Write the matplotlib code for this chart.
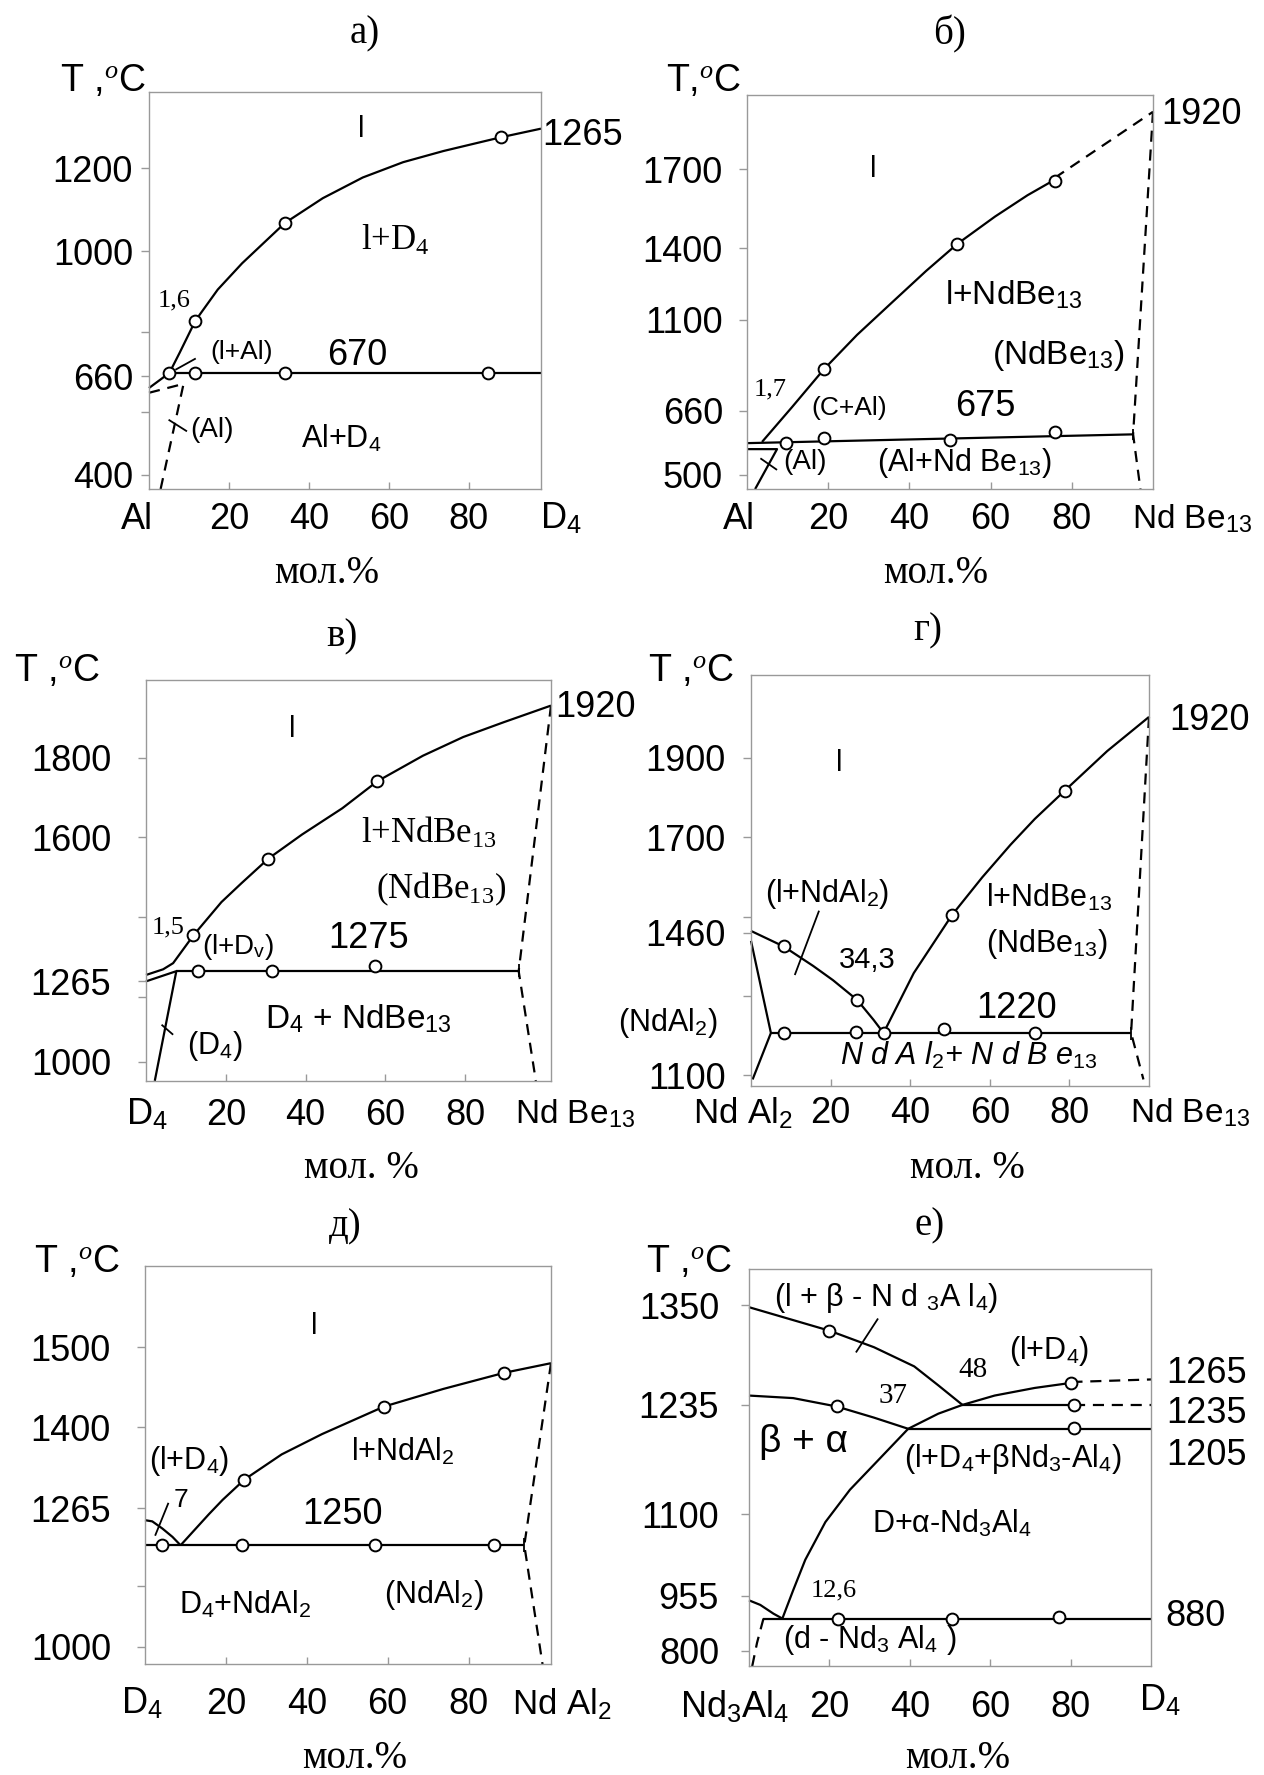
import numpy as np
import matplotlib
matplotlib.use('Agg')
import matplotlib.pyplot as plt
from matplotlib.ticker import NullLocator

SANS = ['Liberation Sans', 'DejaVu Sans']
SERIF = ['Liberation Serif', 'DejaVu Serif']
plt.rcParams['font.family'] = SANS
plt.rcParams['mathtext.fontset'] = 'custom'
plt.rcParams['mathtext.rm'] = 'Liberation Serif'
plt.rcParams['mathtext.it'] = 'Liberation Serif:italic'
plt.rcParams['mathtext.sf'] = 'Liberation Sans'

# ---------------- data (x = mol.%, T = deg C) ----------------
# а) Al - D4
a_liq_x = [5.1, 7.7, 11.6, 17.2, 23.3, 34.0, 43.5, 53.5, 63.6, 73.7, 88.0, 98.1]
a_liq_t = [670, 735, 828, 905, 970, 1068, 1128, 1178, 1215, 1242, 1275, 1296]
a_eut_x = [5.1, 98.1]
a_eut_t = [670, 670]
a_pts_x = [5.1, 11.6, 34.0, 84.8, 11.6, 34.0, 88.0]
a_pts_t = [670, 670, 670, 670, 828, 1068, 1275]
a_sol_x = [0, 5.1]
a_sol_t = [640, 670]
a_dash_x = [0, 8.65, 2.9]
a_dash_t = [632, 647, 354]
a_yticks = [400, 600, 660, 800, 1000, 1200]
a_ylabels = ['400', '', '660', '', '1000', '1200']

# б) Al - NdBe13
b_liq_x = [3.7, 11.1, 18.9, 27.1, 36.1, 44.1, 51.8, 61.1, 69.1, 75.8]
b_liq_t = [582, 678, 860, 1027, 1179, 1305, 1417, 1521, 1602, 1661]
b_liqd_x = [75.8, 100]
b_liqd_t = [1668, 1919]
b_eut_x = [0, 95.1]
b_eut_t = [579, 601]
b_pts_x = [9.5, 18.9, 50.1, 75.8, 18.9, 51.8, 75.8]
b_pts_t = [580, 591, 588, 608, 860, 1417, 1655]
b_solv_x = [100, 95.1, 96.9]
b_solv_t = [1919, 601, 464]
b_al_x = [0, 7.4, 2.0]
b_al_t = [564, 564, 464]
b_yticks = [500, 660, 1100, 1400, 1700]
b_ylabels = ['500', '660', '1100', '1400', '1700']

# в) D4 - NdBe13
c_liq_x = [0, 4.3, 6.8, 11.9, 18.9, 23.9, 30.7, 39.1, 49.2, 58.0, 69.4, 79.5, 89.6, 101.5]
c_liq_t = [1278, 1290, 1303, 1362, 1438, 1485, 1547, 1607, 1673, 1741, 1805, 1852, 1889, 1931]
c_low_x = [0, 7.6]
c_low_t = [1264, 1286]
c_eut_x = [7.6, 93.4]
c_eut_t = [1286, 1286]
c_pts_x = [13.0, 31.5, 57.3, 11.9, 30.7, 58.0]
c_pts_t = [1286, 1286, 1296, 1362, 1547, 1741]
c_sol_x = [7.6, 2.2]
c_sol_t = [1286, 941]
c_solv_x = [101.5, 93.4, 97.7]
c_solv_t = [1931, 1286, 941]
c_yticks = [1000, 1200, 1265, 1400, 1600, 1800]
c_ylabels = ['1000', '', '1265', '', '1600', '1800']

# г) NdAl2 - NdBe13
d_liql_x = [0, 8.2, 15.6, 20.6, 26.7, 30.8, 33.3]
d_liql_t = [1464, 1425, 1376, 1340, 1290, 1240, 1207]
d_liqr_x = [33.3, 40.9, 50.5, 58.1, 65.2, 71.3, 78.8, 89.5, 100]
d_liqr_t = [1207, 1358, 1504, 1599, 1681, 1746, 1817, 1917, 2003]
d_eut_x = [5.0, 95.5]
d_eut_t = [1207, 1207]
d_pts_x = [8.2, 26.4, 33.3, 48.5, 71.3, 8.2, 26.7, 50.5, 78.8]
d_pts_t = [1207, 1209, 1207, 1216, 1207, 1425, 1290, 1504, 1817]
d_sol_x = [0, 5.0, 0.4]
d_sol_t = [1439, 1207, 1090]
d_solv_x = [100, 95.5, 98.6]
d_solv_t = [2003, 1207, 1090]
d_yticks = [1100, 1300, 1460, 1500, 1700, 1900]
d_ylabels = ['1100', '', '1460', '', '1700', '1900']

# д) D4 - NdAl2
e_liq_x = [8.8, 15.8, 19.2, 24.6, 33.8, 43.8, 59.1, 73.8, 88.8, 100.4]
e_liq_t = [1234, 1260, 1279, 1313, 1355, 1389, 1426, 1448, 1468, 1480]
e_arc_x = [0, 1.8, 4.3, 6.8, 8.8]
e_arc_t = [1255, 1254, 1248, 1241, 1234]
e_eut_x = [0, 93.8]
e_eut_t = [1234, 1234]
e_pts_x = [4.3, 24.0, 56.8, 86.4, 24.6, 59.1, 88.8]
e_pts_t = [1234, 1234, 1234, 1234, 1313, 1426, 1468]
e_solv_x = [100.4, 93.8, 98.3]
e_solv_t = [1480, 1234, 942]
e_yticks = [1000, 1200, 1265, 1400, 1500]
e_ylabels = ['1000', '', '1265', '1400', '1500']

# е) Nd3Al4 - D4
f_up_x = [0, 20.0, 31.1, 41.1, 47.1, 53.1]
f_up_t = [1348, 1321, 1302, 1280, 1258, 1235]
f_ba_x = [0, 11.0, 21.8, 31.1, 39.6]
f_ba_t = [1246, 1243, 1233, 1219, 1205]
f_liq_x = [8.3, 11.0, 14.0, 19.0, 25.1, 31.1, 39.6, 47.1, 53.1, 61.1, 71.1, 80.2]
f_liq_t = [880, 965, 1019, 1086, 1130, 1161, 1205, 1224, 1235, 1246, 1255, 1261]
f_arc_x = [0, 2.8, 6.1, 8.3]
f_arc_t = [940, 925, 896, 880]
f_pts_x = [20.0, 21.8, 80.2, 80.9, 80.9, 22.2, 50.6, 77.2]
f_pts_t = [1321, 1233, 1261, 1235, 1206, 880, 880, 886]
f_iso_t = [1265, 1235, 1205, 880]
f_yticks = [800, 955, 1100, 1235, 1350]
f_ylabels = ['800', '955', '1100', '1235', '1350']

# ---------------- layout ----------------
W, H = 1264, 1775
fig = plt.figure(figsize=(W / 100, H / 100), dpi=100)


def piecewise(xp, fp):
    xp = np.asarray(xp, float)
    fp = np.asarray(fp, float)
    s0 = (fp[1] - fp[0]) / (xp[1] - xp[0])
    s1 = (fp[-1] - fp[-2]) / (xp[-1] - xp[-2])

    def f(v):
        v = np.asarray(v, float)
        out = np.interp(v, xp, fp)
        out = np.where(v < xp[0], fp[0] + (v - xp[0]) * s0, out)
        out = np.where(v > xp[-1], fp[-1] + (v - xp[-1]) * s1, out)
        return out
    return f


def make_axes(box, anch_t, anch_f, xlim, yticks, ylabels, xpad, ypad):
    l, t, r, b = box
    ax = fig.add_axes([l / W, 1 - b / H, (r - l) / W, (b - t) / H])
    fwd = piecewise(anch_t, anch_f)
    inv = piecewise(anch_f, anch_t)
    ax.set_yscale('function', functions=(fwd, inv))
    ax.set_xlim(*xlim)
    ax.set_ylim(float(inv(0.0)), float(inv(1.0)))
    ax.set_xticks([20, 40, 60, 80])
    ax.set_yticks(yticks)
    ax.set_yticklabels(ylabels)
    ax.xaxis.set_minor_locator(NullLocator())
    ax.yaxis.set_minor_locator(NullLocator())
    ax.tick_params(axis='x', direction='in', length=5, width=1, color='#999999',
                   labelsize=26, pad=xpad)
    ax.tick_params(axis='y', direction='out', length=6, width=1, color='#999999',
                   labelsize=26, pad=ypad)
    for s in ax.spines.values():
        s.set_color('#999999')
        s.set_linewidth(1.0)
    return ax


def S(s):
    return r'$_{\mathsf{' + s + '}}$'


def R(s):
    return r'$_{\mathrm{' + s + '}}$'


def line(ax, x, t, dash=False, lw=1.6):
    ax.plot(x, t, color='black', lw=lw, ls=(0, (5, 3.5)) if dash else '-',
            clip_on=False, solid_capstyle='butt')


def dots(ax, x, t):
    ax.plot(x, t, 'o', ms=8.5, mfc='white', mec='black', mew=1.4, zorder=5, clip_on=False)


def txt(ax, x, t, s, size, serif=False, **kw):
    kw.setdefault('ha', 'center')
    kw.setdefault('va', 'center')
    ax.text(x, t, s, fontsize=size, family=SERIF if serif else SANS, clip_on=False, **kw)


def endlab(ax, x, s, pad, ha='center', size=26):
    ax.annotate(s, xy=(x, 0), xycoords=('data', 'axes fraction'), xytext=(0, -pad),
                textcoords='offset points', ha=ha, va='top', fontsize=size,
                annotation_clip=False)


def figtxt(x, y, s, size, serif=False, ha='center'):
    fig.text(x / W, 1 - y / H, s, fontsize=size, family=SERIF if serif else SANS,
             ha=ha, va='center')


# ---------------- а) ----------------
ax = make_axes((149, 92, 541, 489), [400, 600, 660, 800, 1000, 1200],
               [0.036, 0.1943, 0.2844, 0.3953, 0.5991, 0.8076], (0, 98.1),
               a_yticks, a_ylabels, 9.4, 5.5)
line(ax, a_liq_x, a_liq_t)
line(ax, a_eut_x, a_eut_t)
line(ax, a_sol_x, a_sol_t)
line(ax, a_dash_x, a_dash_t, dash=True)
line(ax, [6.6, 11.7], [680, 716], lw=1.3)
line(ax, [4.9, 9.5], [575, 538], lw=1.3)
dots(ax, a_pts_x, a_pts_t)
txt(ax, 53.2, 1294, 'l', 21)
txt(ax, 61.6, 1025, 'l+D' + R('4'), 25, serif=True)
txt(ax, 52.0, 726, '670', 26)
txt(ax, 48.0, 516, 'Al+D' + S('4'), 22)
txt(ax, 6.4, 877, '1,6', 19, serif=True)
txt(ax, 23.3, 738, '(l+Al)', 19)
txt(ax, 15.7, 541, '(Al)', 20)
txt(ax, 98.4, 1280, '1265', 26, ha='left')
endlab(ax, -2.9, 'Al', 9.4)
endlab(ax, 103, 'D' + S('4'), 9.4)
figtxt(365, 34, 'а)', 28, serif=True)
figtxt(60, 81, r'T ,$^{\mathit{o}}$C', 27, ha='left')
figtxt(327, 574, 'мол.%', 28, serif=True)

# ---------------- б) ----------------
ax = make_axes((747, 95, 1153, 489), [500, 660, 1100, 1400, 1700],
               [0.0363, 0.1985, 0.4294, 0.6107, 0.8111], (0, 100),
               b_yticks, b_ylabels, 9.4, 11.3)
line(ax, b_liq_x, b_liq_t)
line(ax, b_liqd_x, b_liqd_t, dash=True)
line(ax, b_eut_x, b_eut_t)
line(ax, b_solv_x, b_solv_t, dash=True)
line(ax, [95.1, 95.1], [587, 615], lw=1.3)
line(ax, b_al_x, b_al_t)
line(ax, [3.3, 7.4], [541, 512], lw=1.3)
dots(ax, b_pts_x, b_pts_t)
txt(ax, 31.1, 1700, 'l', 21)
txt(ax, 65.6, 1203, 'l+NdBe' + S('13'), 24)
txt(ax, 76.6, 927, '(NdBe' + S('13') + ')', 24)
txt(ax, 5.6, 764, '1,7', 19, serif=True)
txt(ax, 25.1, 673, '(C+Al)', 19)
txt(ax, 58.6, 682, '675', 26)
txt(ax, 14.4, 533, '(Al)', 20)
txt(ax, 53.6, 530, '(Al+Nd Be' + S('13') + ')', 22)
txt(ax, 102.0, 1907, '1920', 26, ha='left')
endlab(ax, -1.9, 'Al', 9.4)
endlab(ax, 94.8, 'Nd Be' + S('13'), 9.4, ha='left', size=24)
figtxt(950, 34, 'б)', 28, serif=True)
figtxt(666, 81, r'T,$^{\mathit{o}}$C', 27, ha='left')
figtxt(936, 574, 'мол.%', 28, serif=True)

# ---------------- в) ----------------
ax = make_axes((146, 680, 551, 1081), [1000, 1200, 1265, 1400, 1600, 1800],
               [0.0478, 0.2088, 0.2491, 0.4082, 0.6077, 0.8062], (0, 101.5),
               c_yticks, c_ylabels, 11.9, 19.2)
line(ax, c_liq_x, c_liq_t)
line(ax, c_low_x, c_low_t)
line(ax, c_eut_x, c_eut_t)
line(ax, c_sol_x, c_sol_t)
line(ax, c_solv_x, c_solv_t, dash=True)
line(ax, [93.4, 93.4], [1273, 1301], lw=1.3)
line(ax, [3.9, 6.8], [1115, 1084], lw=1.3)
dots(ax, c_pts_x, c_pts_t)
txt(ax, 36.6, 1871, 'l', 21)
txt(ax, 70.9, 1611, 'l+NdBe' + R('13'), 25, serif=True)
txt(ax, 73.9, 1470, '(NdBe' + R('13') + ')', 25, serif=True)
txt(ax, 5.6, 1378, '1,5', 19, serif=True)
txt(ax, 23.1, 1338, '(l+D' + S('v') + ')', 20)
txt(ax, 55.8, 1356, '1275', 26)
txt(ax, 53.2, 1134, 'D' + S('4') + ' + NdBe' + S('13'), 24)
txt(ax, 17.2, 1048, '(D' + S('4') + ')', 22)
txt(ax, 102.6, 1927, '1920', 26, ha='left')
endlab(ax, 0.2, 'D' + S('4'), 11.9)
endlab(ax, 92.5, 'Nd Be' + S('13'), 11.9, ha='left', size=24)
figtxt(342, 637, 'в)', 28, serif=True)
figtxt(14, 671, r'T ,$^{\mathit{o}}$C', 27, ha='left')
figtxt(361, 1169, 'мол. %', 28, serif=True)

# ---------------- г) ----------------
ax = make_axes((751, 675, 1149, 1086), [1100, 1900], [0.0256, 0.7985], (0, 100),
               d_yticks, d_ylabels, 7.2, 12.0)
line(ax, d_liql_x, d_liql_t)
line(ax, d_liqr_x, d_liqr_t)
line(ax, d_eut_x, d_eut_t)
line(ax, d_sol_x, d_sol_t)
line(ax, d_solv_x, d_solv_t, dash=True)
line(ax, [95.5, 95.5], [1190, 1223], lw=1.3)
line(ax, [17.1, 11.0], [1515, 1353], lw=1.3)
dots(ax, d_pts_x, d_pts_t)
txt(ax, 22.2, 1887, 'l', 21)
txt(ax, 19.1, 1557, '(l+NdAl' + S('2') + ')', 22)
txt(ax, 74.8, 1548, 'l+NdBe' + S('13'), 22)
txt(ax, 74.3, 1432, '(NdBe' + S('13') + ')', 22)
txt(ax, 29.3, 1390, '34,3', 21)
txt(ax, 66.7, 1269, '1220', 26)
txt(ax, 54.6, 1150, 'N d A l' + S('2') + '+ N d B e' + S('13'), 22, style='italic')
txt(ax, -21, 1232, '(NdAl' + S('2') + ')', 22)
txt(ax, 105.2, 1994, '1920', 26, ha='left')
endlab(ax, -2.0, 'Nd Al' + S('2'), 7.2, size=25)
endlab(ax, 95.3, 'Nd Be' + S('13'), 7.2, ha='left', size=24)
figtxt(928, 631, 'г)', 28, serif=True)
figtxt(648, 671, r'T ,$^{\mathit{o}}$C', 27, ha='left')
figtxt(967, 1169, 'мол. %', 28, serif=True)

# ---------------- д) ----------------
ax = make_axes((145, 1266, 551, 1664), [1000, 1200, 1265, 1400, 1500],
               [0.0438, 0.1962, 0.3914, 0.5943, 0.7962], (0, 100.4),
               e_yticks, e_ylabels, 16.5, 18.5)
line(ax, e_liq_x, e_liq_t)
line(ax, e_arc_x, e_arc_t)
line(ax, e_eut_x, e_eut_t)
line(ax, e_solv_x, e_solv_t, dash=True)
line(ax, [93.8, 93.8], [1228, 1240], lw=1.3)
line(ax, [2.5, 5.8], [1242, 1274], lw=1.3)
dots(ax, e_pts_x, e_pts_t)
txt(ax, 41.8, 1526, 'l', 21)
txt(ax, 10.8, 1344, '(l+D' + S('4') + ')', 22)
txt(ax, 63.8, 1360, 'l+NdAl' + S('2'), 22)
txt(ax, 48.8, 1260, '1250', 26)
txt(ax, 24.8, 1138, 'D' + S('4') + '+NdAl' + S('2'), 22)
txt(ax, 71.3, 1169, '(NdAl' + S('2') + ')', 22)
txt(ax, 9.0, 1278, '7', 19)
endlab(ax, -0.7, 'D' + S('4'), 16.5)
endlab(ax, 90.8, 'Nd Al' + S('2'), 16.5, ha='left', size=25)
figtxt(345, 1227, 'д)', 28, serif=True)
figtxt(34, 1262, r'T ,$^{\mathit{o}}$C', 27, ha='left')
figtxt(355, 1759, 'мол.%', 28, serif=True)

# ---------------- е) ----------------
ax = make_axes((749, 1269, 1151, 1666), [800, 880, 955, 1100, 1205, 1235, 1265, 1350],
               [0.0382, 0.1195, 0.1769, 0.3824, 0.5975, 0.6577, 0.7218, 0.9082], (0, 100),
               f_yticks, f_ylabels, 17.0, 15.6)
line(ax, f_up_x, f_up_t)
line(ax, f_ba_x, f_ba_t)
line(ax, f_liq_x, f_liq_t)
line(ax, f_arc_x, f_arc_t)
line(ax, [80.2, 100], [1262, f_iso_t[0]], dash=True)
line(ax, [53.1, 80.9], [f_iso_t[1]] * 2)
line(ax, [80.9, 100], [f_iso_t[1]] * 2, dash=True)
line(ax, [39.6, 100], [f_iso_t[2]] * 2)
line(ax, [3.6, 100], [f_iso_t[3]] * 2)
line(ax, [3.6, 2.0, 0.8], [880, 820, 762], dash=True)
line(ax, [32.1, 26.6], [1335, 1296], lw=1.3)
dots(ax, f_pts_x, f_pts_t)
txt(ax, 34.1, 1359, '(l + β - N d ' + S('3') + 'A l' + S('4') + ')', 22)
txt(ax, 74.6, 1298, '(l+D' + S('4') + ')', 22)
txt(ax, 55.6, 1276, '48', 21, serif=True)
txt(ax, 35.9, 1245, '37', 21, serif=True)
txt(ax, 13.5, 1189, 'β + α', 28)
txt(ax, 65.6, 1168, '(l+D' + S('4') + '+βNd' + S('3') + '-Al' + S('4') + ')', 22)
txt(ax, 50.6, 1083, 'D+α-Nd' + S('3') + 'Al' + S('4'), 22)
txt(ax, 21.0, 965, '12,6', 19, serif=True)
txt(ax, 30.1, 828, '(d - Nd' + S('3') + ' Al' + S('4') + ' )', 22)
for lab, tt in zip(['1265', '1235', '1205', '880'], [1272, 1224, 1172, 886]):
    txt(ax, 103.7, tt, lab, 26, ha='left')
endlab(ax, -3.5, 'Nd' + S('3') + 'Al' + S('4'), 17.0)
endlab(ax, 102.2, 'D' + S('4'), 13.0)
figtxt(930, 1226, 'е)', 28, serif=True)
figtxt(646, 1262, r'T ,$^{\mathit{o}}$C', 27, ha='left')
figtxt(958, 1759, 'мол.%', 28, serif=True)

fig.savefig('out.png', dpi=100)
